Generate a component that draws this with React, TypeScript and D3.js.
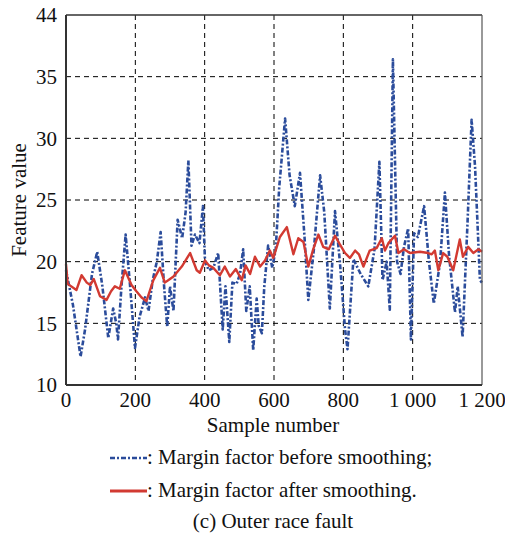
import React from "react";
import * as d3 from "d3";

const beforeX = [0,20,42,55,75,90,105,122,136,145,150,160,172,185,199,212,228,238,250,262,273,283,292,300,310,322,335,345,353,362,372,385,395,401,412,425,439,452,460,471,480,492,502,511,520,530,540,550,556,565,572,583,595,605,615,632,645,660,675,688,699,715,733,745,761,776,790,805,812,829,850,872,890,904,913,925,934,943,955,965,975,987,995,1004,1015,1033,1047,1061,1079,1093,1105,1122,1130,1144,1158,1170,1180,1194,1200];
const beforeY = [19.3,16.5,12.3,14.5,19,20.8,18,13.8,16.2,15,13.7,18,22.2,18,13.0,15.5,17.1,16,18.5,20,22.4,18,14.7,18,16,23.4,21.9,24,28.2,21.3,22.2,21.5,24.5,20,19.3,19.5,20.7,14.5,18,13.5,18.3,18.2,19,21,16,18,12.8,17,14.8,14.2,18,21.3,19.5,21,26,31.6,27,24.5,27.2,22,16.9,21,27,24,16.2,24.1,20,14.5,12.9,20.2,19,18,21,28.1,18.5,20,16.1,36.4,20,19,21.2,22.7,13.7,22.3,22,24.5,20,16.6,19.9,25.6,20.5,15.9,18,13.9,23,31.5,27.7,18.5,18.3];

const afterX = [0,5,30,45,60,70,80,98,117,130,141,155,170,189,203,218,232,252,271,285,300,310,334,358,377,386,401,412,425,444,458,473,490,507,518,531,545,560,574,588,598,617,637,656,670,685,699,713,728,742,758,776,790,805,819,834,845,858,876,896,911,920,930,949,959,975,992,1021,1045,1055,1064,1074,1088,1100,1117,1136,1145,1160,1175,1190,1200];
const afterY = [19.8,18.2,17.7,18.9,18.3,18.1,18.6,17.2,16.9,17.6,18,17.8,19.3,18.1,17.6,17.1,16.8,18.5,19.5,18.3,18.6,18.8,19.6,20.7,19.3,19.1,20.1,19.7,19.5,18.9,19.6,18.8,19.4,18.5,19.7,19.0,20.4,19.6,20.1,20.9,20.3,22.0,22.8,20.6,21.9,21.6,19.6,21.0,22.2,21.2,21.0,22.1,21.4,20.7,20.3,20.9,20.6,19.6,20.9,21.1,21.9,20.9,21.5,22.1,20.7,21.0,20.7,20.8,20.7,20.6,20.9,19.3,20.7,20.4,19.3,21.8,20.4,21.2,20.7,21.0,20.8];

const xTicks = [0, 200, 400, 600, 800, 1000, 1200];
const xTickLabels = ["0", "200", "400", "600", "800", "1 000", "1 200"];
const yTicks = [10, 15, 20, 25, 30, 35, 40];
const yTickLabels = ["10", "15", "20", "25", "30", "35", "44"];

const legendLabels = [": Margin factor before smoothing;", ": Margin factor after smoothing."];
const caption = "(c) Outer race fault";

export default function App() {
  const W = 505, H = 535;
  const L = 66, R = 482, T = 15, B = 385;
  const x = d3.scaleLinear().domain([0, 1200]).range([L, R]);
  const y = d3.scaleLinear().domain([10, 40]).range([B, T]);
  const font = "Liberation Serif, DejaVu Serif, serif";
  const line = d3.line<[number, number]>().x(d => x(d[0])).y(d => y(d[1]));
  const before = line(beforeX.map((v, i) => [v, beforeY[i]] as [number, number])) || "";
  const after = line(afterX.map((v, i) => [v, afterY[i]] as [number, number])) || "";
  const blue = "#2b4c9b";
  const red = "#d23a32";
  const ts = { fontFamily: font } as React.CSSProperties;
  const fs = 21;
  return (
    <svg width={W} height={H} style={{ position: "absolute", left: 0, top: 0, background: "#fff", fontFamily: font }}>
      <rect x={0} y={0} width={W} height={H} fill="#fff" />
      {xTicks.slice(1, -1).map(t => (
        <line key={"gx" + t} x1={x(t)} x2={x(t)} y1={T} y2={B} stroke="#000" strokeWidth={1} strokeDasharray="5,4" />
      ))}
      {yTicks.slice(1, -1).map(t => (
        <line key={"gy" + t} x1={L} x2={R} y1={y(t)} y2={y(t)} stroke="#000" strokeWidth={1} strokeDasharray="5,4" />
      ))}
      <path d={before} fill="none" stroke={blue} strokeWidth={2.6} strokeDasharray="5,2,2,2" strokeLinejoin="round" />
      <path d={after} fill="none" stroke={red} strokeWidth={2.4} strokeLinejoin="round" />
      <line x1={L} x2={R} y1={T} y2={T} stroke="#333" strokeWidth={1.5} />
      <line x1={R} x2={R} y1={T} y2={B} stroke="#555" strokeWidth={1.2} />
      <line x1={L} x2={L} y1={T} y2={B} stroke="#333" strokeWidth={2} />
      <line x1={L} x2={R} y1={B} y2={B} stroke="#333" strokeWidth={2} />
      {yTicks.map((t, i) => (
        <text key={"ty" + t} style={ts} x={L - 9} y={y(t)} dy="0.35em" textAnchor="end" fontSize={fs} fill="#111">{yTickLabels[i]}</text>
      ))}
      {xTicks.map((t, i) => (
        <text key={"tx" + t} style={ts} x={x(t)} y={407} textAnchor="middle" fontSize={fs} fill="#111">{xTickLabels[i]}</text>
      ))}
      <text style={ts} x={273} y={432} textAnchor="middle" fontSize={fs} fill="#111">Sample number</text>
      <text style={ts} transform={`translate(26,${(T + B) / 2}) rotate(-90)`} textAnchor="middle" fontSize={fs} fill="#111">Feature value</text>
      <line x1={110} x2={147} y1={458} y2={458} stroke={blue} strokeWidth={2.6} strokeDasharray="5,2,2,2" />
      <text style={ts} x={147} y={464} fontSize={fs} fill="#111">{legendLabels[0]}</text>
      <line x1={110} x2={147} y1={491} y2={491} stroke={red} strokeWidth={2.8} />
      <text style={ts} x={147} y={497} fontSize={fs} fill="#111">{legendLabels[1]}</text>
      <text style={ts} x={273} y={528} textAnchor="middle" fontSize={fs} fill="#111">{caption}</text>
    </svg>
  );
}
